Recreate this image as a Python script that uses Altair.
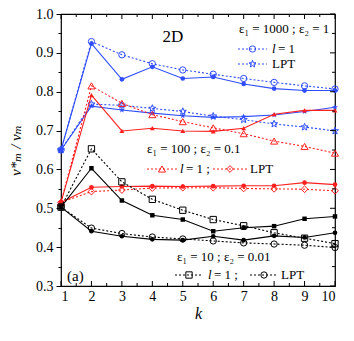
import math
import altair as alt
import pandas as pd

# ---------------- data ----------------
k = [1, 2, 3, 4, 5, 6, 7, 8, 9, 10]

blue_l1_solid = [0.650, 0.924, 0.832, 0.864, 0.834, 0.838, 0.820, 0.808, 0.803, 0.803]
blue_l1_dot = [0.650, 0.929, 0.895, 0.872, 0.856, 0.845, 0.834, 0.824, 0.815, 0.807]
blue_lpt_solid = [0.650, 0.763, 0.753, 0.745, 0.738, 0.734, 0.736, 0.740, 0.749, 0.760]
blue_lpt_dot = [0.650, 0.768, 0.765, 0.757, 0.749, 0.737, 0.728, 0.717, 0.709, 0.699]

red_l1_solid = [0.515, 0.791, 0.699, 0.706, 0.699, 0.698, 0.706, 0.742, 0.752, 0.752]
red_l1_dot = [0.515, 0.815, 0.770, 0.741, 0.723, 0.707, 0.692, 0.673, 0.659, 0.642]
red_lpt_solid = [0.515, 0.554, 0.556, 0.557, 0.556, 0.557, 0.558, 0.558, 0.566, 0.561]
red_lpt_dot = [0.515, 0.543, 0.547, 0.552, 0.553, 0.553, 0.551, 0.550, 0.549, 0.545]

black_l1_solid = [0.503, 0.603, 0.520, 0.482, 0.471, 0.441, 0.450, 0.454, 0.473, 0.479]
black_l1_dot = [0.503, 0.653, 0.568, 0.523, 0.495, 0.471, 0.455, 0.437, 0.423, 0.409]
black_lpt_solid = [0.503, 0.441, 0.428, 0.420, 0.418, 0.428, 0.418, 0.429, 0.425, 0.437]
black_lpt_dot = [0.503, 0.449, 0.435, 0.426, 0.421, 0.416, 0.411, 0.408, 0.405, 0.399]

x_major = [1, 2, 3, 4, 5, 6, 7, 8, 9, 10]
x_minor = [1.5, 2.5, 3.5, 4.5, 5.5, 6.5, 7.5, 8.5, 9.5]
y_major = [0.3, 0.4, 0.5, 0.6, 0.7, 0.8, 0.9, 1.0]
y_minor = [0.35, 0.45, 0.55, 0.65, 0.75, 0.85, 0.95]

# ---------------- style ----------------
BLUE = "#2f4dff"
RED = "#ff1f1f"
BLACK = "#000000"
FONT = "'Liberation Serif', 'Times New Roman', 'DejaVu Serif', serif"
W = 274
H = 272

pts = []
for i in range(10):
    r = 1.0 if i % 2 == 0 else 0.42
    a = math.radians(-90 + 36 * i)
    pts.append(f"{r * math.cos(a):.3f},{r * math.sin(a):.3f}")
STAR = "M" + " L".join(pts) + " Z"

XS = alt.Scale(domain=[1, 10], nice=False, zero=False)
YS = alt.Scale(domain=[0.3, 1.0], nice=False, zero=False)

x_axis = alt.Axis(
    values=x_major, ticks=False, grid=False, domain=False,
    labelFont=FONT, labelFontSize=14, labelColor="black", labelPadding=3,
    title="k", titleFont=FONT, titleFontSize=16, titleFontStyle="italic",
    titleFontWeight="normal", titleColor="black", titlePadding=2,
)
cond = "abs(datum.value*10 - round(datum.value*10)) < 0.001"
y_axis = alt.Axis(
    values=y_major + y_minor, grid=False, domain=False,
    labelExpr=f"{cond} ? format(datum.value, '.1f') : ''",
    tickSize={"condition": {"test": cond, "value": 5}, "value": 3},
    tickColor="black", labelFont=FONT, labelFontSize=14, labelColor="black",
    labelPadding=3,
    title="v*ₘ / vₘ", titleFont=FONT, titleFontSize=15, titleFontStyle="italic",
    titleFontWeight="normal", titleColor="black", titlePadding=12,
)

XE = alt.X("k:Q", scale=XS, axis=x_axis)
YE = alt.Y("v:Q", scale=YS, axis=y_axis)

layers = []


def series(vals, color, dash, shape, filled, size):
    df = pd.DataFrame({"k": k, "v": vals})
    line_kw = dict(color=color, strokeWidth=1.1)
    if dash:
        line_kw["strokeDash"] = [2, 2]
    ln = alt.Chart(df).mark_line(**line_kw).encode(x=XE, y=YE)
    pt = alt.Chart(df).mark_point(
        shape=shape, filled=filled, size=size, color=color,
        strokeWidth=1, opacity=1,
    ).encode(x=XE, y=YE)
    return [ln, pt]


layers += series(blue_l1_solid, BLUE, False, "circle", True, 22)
layers += series(blue_l1_dot, BLUE, True, "circle", False, 40)
layers += series(blue_lpt_solid, BLUE, False, STAR, True, 36)
layers += series(blue_lpt_dot, BLUE, True, STAR, False, 55)
layers += series(red_l1_solid, RED, False, "triangle-up", True, 24)
layers += series(red_l1_dot, RED, True, "triangle-up", False, 50)
layers += series(red_lpt_solid, RED, False, "circle", True, 22)
layers += series(red_lpt_dot, RED, True, "diamond", False, 45)
layers += series(black_l1_solid, BLACK, False, "square", True, 20)
layers += series(black_l1_dot, BLACK, True, "square", False, 40)
layers += series(black_lpt_solid, BLACK, False, "circle", True, 22)
layers += series(black_lpt_dot, BLACK, True, "circle", False, 40)

# ---------------- inward ticks (bottom, top, right) ----------------
def xticks(vals, length):
    df = pd.DataFrame({"k": vals})
    bot = alt.Chart(df).mark_rule(color="black", strokeWidth=1).encode(
        x=XE, y=alt.value(H), y2=alt.value(H - length))
    top = alt.Chart(df).mark_rule(color="black", strokeWidth=1).encode(
        x=XE, y=alt.value(0), y2=alt.value(length))
    return [bot, top]


def yticks(vals, length):
    df = pd.DataFrame({"v": vals})
    right = alt.Chart(df).mark_rule(color="black", strokeWidth=1).encode(
        y=YE, x=alt.value(W), x2=alt.value(W - length))
    return [right]


layers += xticks(x_major, 5) + xticks(x_minor, 3)
layers += yticks(y_major, 5) + yticks(y_minor, 3)

# ---------------- annotations ----------------
one = alt.Data(values=[{"a": 1}])


def txt(s, x, y, size=13, align="left", style="normal"):
    return alt.Chart(one).mark_text(
        text=s, font=FONT, fontSize=size, align=align, baseline="middle",
        color="black", fontStyle=style,
    ).encode(x=alt.value(x), y=alt.value(y))


def key(x0, x1, y, color, shape, size):
    ln = alt.Chart(one).mark_rule(color=color, strokeWidth=1, strokeDash=[2, 2]).encode(
        x=alt.value(x0), x2=alt.value(x1), y=alt.value(y))
    pt = alt.Chart(one).mark_point(shape=shape, filled=False, size=size, color=color,
                                   strokeWidth=1, opacity=1).encode(
        x=alt.value((x0 + x1) / 2), y=alt.value(y))
    return [ln, pt]


def lrow(x, y, rest):
    return [txt("l", x, y, style="italic"), txt(rest, x + 6, y)]


layers.append(txt("2D", 112, 23, size=17, align="center"))
layers.append(txt("ε₁ = 1000 ; ε₂ = 1", 178, 15))
layers += key(177, 206, 35, BLUE, "circle", 40)
layers += lrow(211, 35, "= 1")
layers += key(177, 206, 50, BLUE, STAR, 55)
layers.append(txt("LPT", 211, 50))

layers.append(txt("ε₁ = 100 ; ε₂ = 0.1", 86, 135))
layers += key(86, 116, 155, RED, "triangle-up", 50)
layers += lrow(119, 155, "= 1  ;")
layers += key(152, 186, 155, RED, "diamond", 45)
layers.append(txt("LPT", 189, 155))

layers.append(txt("ε₁ = 10 ; ε₂ = 0.01", 116, 243))
layers += key(114, 142, 261, BLACK, "square", 40)
layers += lrow(147, 261, "= 1  ;")
layers += key(189, 217, 261, BLACK, "circle", 40)
layers.append(txt("LPT", 220, 261))

layers.append(txt("(a)", 6, 262, size=15))

chart = alt.layer(*layers).properties(
    width=W, height=H,
    autosize=alt.AutoSizeParams(type="none"),
    padding={"left": 53, "top": 6, "right": 10, "bottom": 40},
    background="white",
).configure_view(stroke="black", strokeWidth=1.2)

chart.save("out.html", embed_options={"renderer": "svg", "actions": False})
